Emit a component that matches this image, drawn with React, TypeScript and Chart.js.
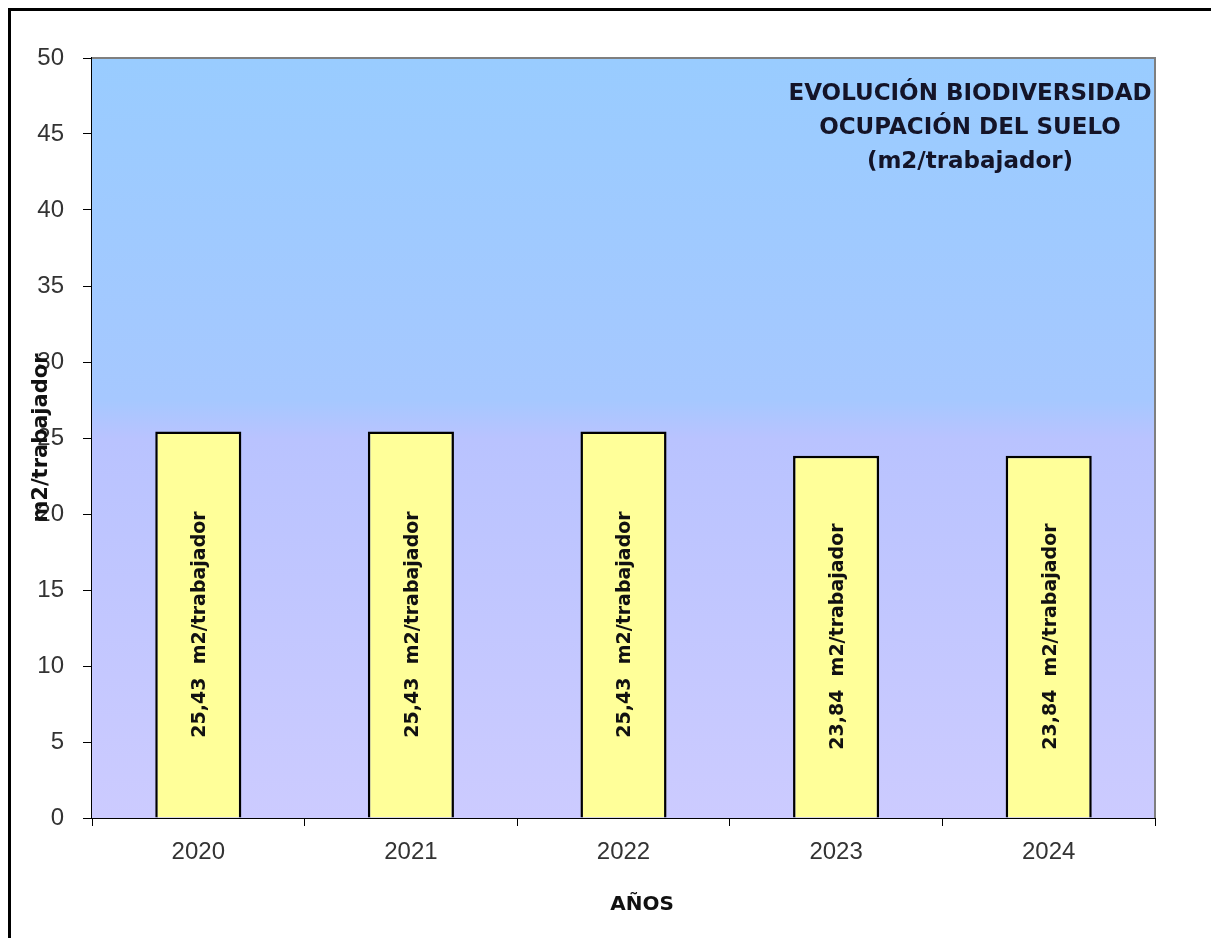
import React, { useEffect, useRef } from "react";
import { Chart, registerables } from "chart.js";

Chart.register(...registerables);

const years = ["2020", "2021", "2022", "2023", "2024"];
const values = [25.43, 25.43, 25.43, 23.84, 23.84];
const barLabels = ["25,43  m2/trabajador", "25,43  m2/trabajador", "25,43  m2/trabajador", "23,84  m2/trabajador", "23,84  m2/trabajador"];
const titleLines = ["EVOLUCIÓN BIODIVERSIDAD", "OCUPACIÓN DEL SUELO", "(m2/trabajador)"];
const yTitle = "m2/trabajador";
const xTitle = "AÑOS";

const W = 1208;
const H = 927;

const decorPlugin = {
  id: "decor",
  beforeDatasetsDraw(chart: any) {
    const { ctx, chartArea: a } = chart;
    ctx.save();
    const g = ctx.createLinearGradient(0, a.top, 0, a.bottom);
    g.addColorStop(0, "#99ccff");
    g.addColorStop(0.45, "#a6c8ff");
    g.addColorStop(0.5, "#b9c3ff");
    g.addColorStop(1, "#cccbff");
    ctx.fillStyle = g;
    ctx.fillRect(a.left, a.top, a.right - a.left, a.bottom - a.top);
    ctx.strokeStyle = "#7f7f7f";
    ctx.lineWidth = 2;
    ctx.beginPath();
    ctx.moveTo(a.left, a.top);
    ctx.lineTo(a.right, a.top);
    ctx.lineTo(a.right, a.bottom);
    ctx.stroke();
    ctx.restore();
  },
  afterDatasetsDraw(chart: any) {
    const { ctx } = chart;
    const meta = chart.getDatasetMeta(0);
    ctx.save();
    ctx.fillStyle = "#111";
    ctx.font = "bold 19px 'DejaVu Sans', sans-serif";
    ctx.textAlign = "center";
    ctx.textBaseline = "middle";
    meta.data.forEach((bar: any, i: number) => {
      const cy = (bar.y + bar.base) / 2;
      ctx.save();
      ctx.translate(bar.x + 2, cy);
      ctx.rotate(-Math.PI / 2);
      ctx.fillText(barLabels[i], 0, 0);
      ctx.restore();
    });
    ctx.font = "bold 23px 'DejaVu Sans', sans-serif";
    ctx.fillStyle = "#141428";
    titleLines.forEach((t, i) => {
      ctx.fillText(t, 959, 83 + i * 34);
    });
    ctx.restore();
  },
  afterDraw(chart: any) {
    const { ctx, chartArea: a } = chart;
    ctx.save();
    ctx.fillStyle = "#111";
    ctx.textAlign = "center";
    ctx.textBaseline = "middle";
    ctx.font = "bold 20px 'DejaVu Sans', sans-serif";
    ctx.fillText(xTitle, 631, 894);
    ctx.font = "bold 21px 'DejaVu Sans', sans-serif";
    ctx.translate(31, (a.top + a.bottom) / 2);
    ctx.rotate(-Math.PI / 2);
    ctx.fillText(yTitle, 0, 0);
    ctx.restore();
  },
};

export default function App() {
  const ref = useRef<HTMLCanvasElement>(null);
  useEffect(() => {
    document.documentElement.style.overflow = "hidden";
    if (!ref.current) return;
    const chart = new Chart(ref.current, {
      type: "bar",
      data: {
        labels: years,
        datasets: [
          {
            data: values,
            backgroundColor: "#ffff99",
            borderColor: "#000000",
            borderWidth: 2.5,
            categoryPercentage: 1,
            barPercentage: 0.405,
          },
        ],
      },
      options: {
        responsive: false,
        animation: false,
        layout: { padding: { left: 0, right: W - 1144, top: 47, bottom: 0 } },
        plugins: { legend: { display: false }, tooltip: { enabled: false }, title: { display: false } },
        scales: {
          x: {
            offset: true,
            grid: { display: true, drawOnChartArea: false, drawTicks: true, tickLength: 8, color: "#000", offset: true, lineWidth: 1 },
            border: { display: true, color: "#000", width: 2 },
            ticks: { color: "#333", font: { family: "'Liberation Sans', sans-serif", size: 24 }, padding: 12 },
            afterFit(scale: any) {
              scale.height = H - 807;
            },
          },
          y: {
            min: 0,
            max: 50,
            grid: { display: true, drawOnChartArea: false, drawTicks: true, tickLength: 9, color: "#000", lineWidth: 1 },
            border: { display: true, color: "#000", width: 2 },
            ticks: { stepSize: 5, color: "#333", font: { family: "'Liberation Sans', sans-serif", size: 24 }, padding: 19 },
            afterFit(scale: any) {
              scale.width = 81;
            },
          },
        },
      },
      plugins: [decorPlugin],
    });
    return () => chart.destroy();
  }, []);
  return (
    <div
      style={{
        position: "relative",
        width: W + 3,
        height: H + 3,
        boxSizing: "border-box",
        borderLeft: "3px solid #000",
        borderTop: "3px solid #000",
        background: "#fff",
      }}
    >
      <canvas ref={ref} width={W} height={H} style={{ display: "block" }} />
    </div>
  );
}
